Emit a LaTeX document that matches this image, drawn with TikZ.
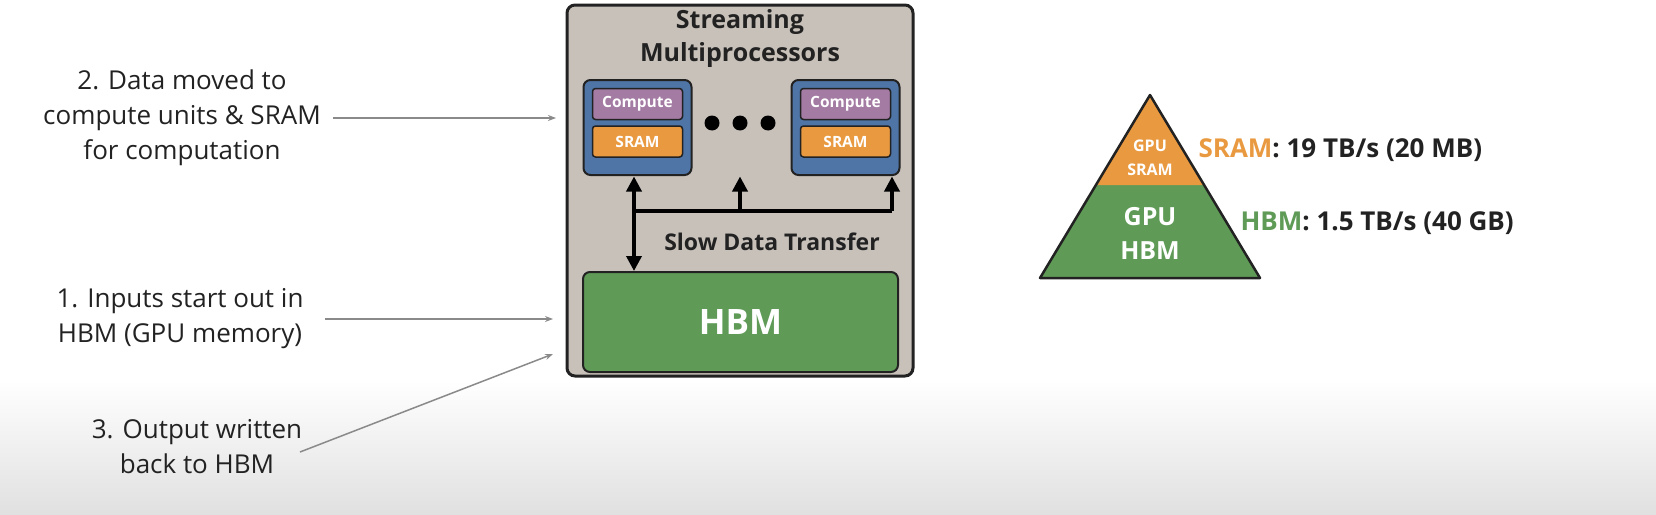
\documentclass[tikz,border=0pt]{standalone}
\usepackage{fontspec}
\setmainfont{Open Sans}
\usetikzlibrary{arrows.meta}
\definecolor{boxgray}{HTML}{C8C1BA}
\definecolor{smblue}{HTML}{4F74A6}
\definecolor{cpurple}{HTML}{A37BA3}
\definecolor{sorange}{HTML}{E99A41}
\definecolor{hgreen}{HTML}{5F9B57}
\definecolor{dark}{HTML}{222222}
\definecolor{lblgray}{HTML}{8A8A8A}
\begin{document}
\begin{tikzpicture}[x=1pt,y=-1pt,
  lbl/.style={align=center,font=\fontsize{26}{35}\selectfont,text=dark},
  note/.style={draw=lblgray,line width=1.5pt,-{Stealth[length=8pt,width=6pt]}},
  inner/.style={draw=dark,line width=1.5pt,rounded corners=3pt,text=white,font=\bfseries\fontsize{15.5}{17}\selectfont},
  fat/.style={line width=3.5pt,draw=black},
  tip/.style={-{Triangle[length=15pt,width=15pt]}},
  dot/.style={circle,fill=black,inner sep=0pt,minimum size=15pt}]
\useasboundingbox (0,0) rectangle (1656,514);
\shade[top color=white,bottom color=black!12] (0,380) rectangle (1656,514);
% outer box
\node[draw=dark,line width=3pt,fill=boxgray,rounded corners=8pt,minimum width=346pt,minimum height=371pt] (gpu) at (740,190.5) {};
\node[align=center,font=\bfseries\fontsize{25}{33}\selectfont,text=dark] (title) at (740,39) {Streaming\\Multiprocessors};
% SMs
\foreach \n/\cx in {l/637.5,r/845.5}{
  \node[draw=dark,line width=2pt,fill=smblue,rounded corners=7pt,minimum width=108pt,minimum height=95pt] (sm\n) at (\cx,127.5) {};
  \node[inner,fill=cpurple,minimum width=90pt,minimum height=31pt] (c\n) at (\cx,104) {Compute};
  \node[inner,fill=sorange,minimum width=90pt,minimum height=31pt] (s\n) at (\cx,141.5) {SRAM};
}
\node[dot] (d1) at (712,123) {};
\node[dot] (d2) at (740,123) {};
\node[dot] (d3) at (768,123) {};
% HBM
\node[draw=dark,line width=2pt,fill=hgreen,rounded corners=7pt,minimum width=315pt,minimum height=100pt,text=white,font=\bfseries\fontsize{35}{36}\selectfont] (hbm) at (740.5,322) {HBM};
% arrows
\coordinate (j1) at (634,211);
\coordinate (j2) at (740,211);
\coordinate (j3) at (892,211);
\coordinate (t2) at (740,176.5);
\draw[fat,{Triangle[length=15pt,width=15pt]}-{Triangle[length=15pt,width=15pt]}] (634,176.5) -- (634,271);
\draw[fat] (j1) -- (j3);
\draw[fat,tip] (j2) -- (t2);
\draw[fat,tip] (j3) -- (892,176.5);
\node[font=\bfseries\fontsize{23}{24}\selectfont,text=dark] (slow) at (772,242) {Slow Data Transfer};
% left notes
\node[lbl] (n2) at (182,118) {2. Data moved to\\compute units \& SRAM\\for computation};
\node[lbl] (n1) at (180,319) {1. Inputs start out in\\HBM (GPU memory)};
\node[lbl] (n3) at (197,447) {3. Output written\\back to HBM};
\coordinate (a2) at (556,118);
\coordinate (a1) at (553,319);
\coordinate (a3) at (553,354);
\draw[note] (333,118) -- (a2);
\draw[note] (325,319) -- (a1);
\draw[note] (300,452) -- (a3);
% pyramid
\coordinate (ap) at (1150,95);
\coordinate (bl) at (1040,278);
\coordinate (br) at (1260,278);
\fill[hgreen] (1096,185) -- (1204,185) -- (br) -- (bl) -- cycle;
\fill[sorange] (ap) -- (1204,185) -- (1096,185) -- cycle;
\draw[line width=2.5pt,dark,line join=round] (ap) -- (br) -- (bl) -- cycle;
\node[align=center,text=white,font=\bfseries\fontsize{16}{24}\selectfont] (ps) at (1150,158) {GPU\\SRAM};
\node[align=center,text=white,font=\bfseries\fontsize{25}{34}\selectfont] (ph) at (1150,233) {GPU\\HBM};
\node[anchor=west,font=\bfseries\fontsize{26}{28}\selectfont,text=dark] (ls) at (1195,150) {\textcolor{sorange}{SRAM}: 19 TB/s (20 MB)};
\node[anchor=west,font=\bfseries\fontsize{26}{28}\selectfont,text=dark] (lh) at (1237,223) {\textcolor{hgreen}{HBM}: 1.5 TB/s (40 GB)};
\end{tikzpicture}
\end{document}
